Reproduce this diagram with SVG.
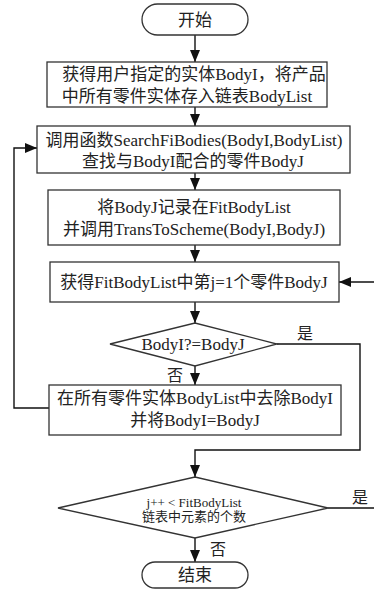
<svg xmlns="http://www.w3.org/2000/svg" width="374" height="590" viewBox="0 0 374 590">
<style>
.box{fill:#fff;stroke:#333;stroke-width:1.3}
.t{font-family:"Liberation Serif","Noto Sans CJK SC",serif;font-size:17px;fill:#222;text-anchor:middle;dominant-baseline:central}
.s{font-size:13px}
.c{fill:none;stroke:#111;stroke-width:1.4}
</style>
<defs>
<marker id="ah" markerUnits="userSpaceOnUse" markerWidth="12" markerHeight="12" viewBox="0 0 12 12" refX="12" refY="6" orient="auto">
<path d="M0,1 L12,6 L0,11 Z" fill="#111"/>
</marker>
</defs>
<rect width="374" height="590" fill="#fff"/>
<g id="connectors">
<line class="c" x1="195" y1="35" x2="195" y2="62" marker-end="url(#ah)"/>
<line class="c" x1="195" y1="107" x2="195" y2="126" marker-end="url(#ah)"/>
<line class="c" x1="195" y1="173" x2="195" y2="190" marker-end="url(#ah)"/>
<line class="c" x1="195" y1="245" x2="195" y2="262" marker-end="url(#ah)"/>
<line class="c" x1="195" y1="302" x2="195" y2="323" marker-end="url(#ah)"/>
<line class="c" x1="195" y1="366" x2="195" y2="385" marker-end="url(#ah)"/>
<polyline class="c" points="277,344 360,344 360,450 195,450 195,477" marker-end="url(#ah)"/>
<polyline class="c" points="49,408 14,408 14,148 37,148" marker-end="url(#ah)"/>
<line class="c" x1="328" y1="508" x2="374" y2="508"/>
<line class="c" x1="374" y1="282" x2="339" y2="282" marker-end="url(#ah)"/>
<line class="c" x1="195" y1="538" x2="195" y2="562" marker-end="url(#ah)"/>
<text class="t" x="305" y="333" style="font-size:16px">是</text>
<text class="t" x="175" y="375" style="font-size:16px">否</text>
<text class="t" x="360" y="497" style="font-size:16px">是</text>
<text class="t" x="218" y="549" style="font-size:16px">否</text>
</g>
<g id="start">
<rect class="box" x="142" y="4" width="106" height="31" rx="15.5"/>
<text class="t" x="195" y="20">开始</text>
</g>
<g id="box1">
<rect class="box" x="47" y="62" width="280" height="45"/>
<text class="t" x="194" y="74">获得用户指定的实体BodyI，将产品</text>
<text class="t" x="187" y="96">中所有零件实体存入链表BodyList</text>
</g>
<g id="box2">
<rect class="box" x="37" y="126" width="313" height="47"/>
<text class="t" x="194" y="140">调用函数SearchFiBodies(BodyI,BodyList)</text>
<text class="t" x="193" y="161">查找与BodyI配合的零件BodyJ</text>
</g>
<g id="box3">
<rect class="box" x="48" y="190" width="292" height="55"/>
<text class="t" x="194" y="207">将BodyJ记录在FitBodyList</text>
<text class="t" x="194" y="229">并调用TransToScheme(BodyI,BodyJ)</text>
</g>
<g id="box4">
<rect class="box" x="50" y="262" width="289" height="40"/>
<text class="t" x="194" y="282">获得FitBodyList中第j=1个零件BodyJ</text>
</g>
<g id="decision1">
<polygon class="box" points="110,344 195,323 277,344 195,366"/>
<text class="t" x="193" y="344">BodyI?=BodyJ</text>
</g>
<g id="box5">
<rect class="box" x="49" y="385" width="292" height="50"/>
<text class="t" x="195" y="398">在所有零件实体BodyList中去除BodyI</text>
<text class="t" x="195" y="420">并将BodyI=BodyJ</text>
</g>
<g id="decision2">
<polygon class="box" points="58,508 195,477 328,508 195,538"/>
<text class="t s" x="194" y="502">j++ &lt; FitBodyList</text>
<text class="t s" x="194" y="516">链表中元素的个数</text>
</g>
<g id="end">
<rect class="box" x="142" y="562" width="106" height="26" rx="13"/>
<text class="t" x="195" y="575">结束</text>
</g>
</svg>
